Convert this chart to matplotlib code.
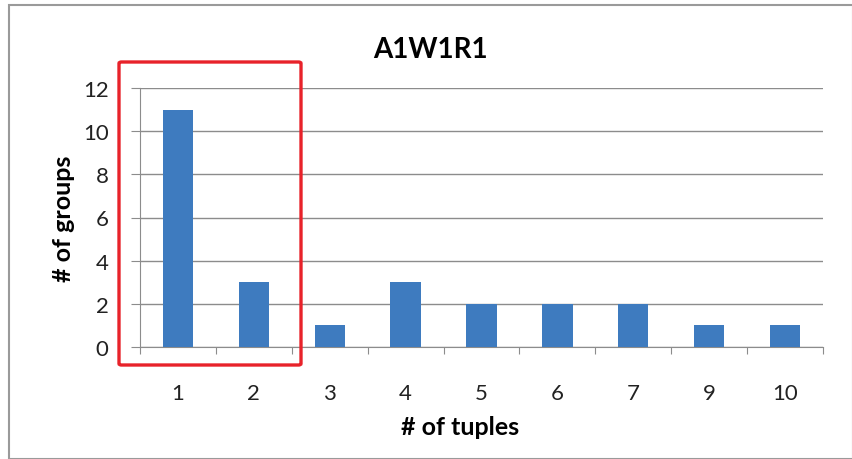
import matplotlib.pyplot as plt
import numpy as np
from matplotlib.patches import FancyBboxPatch, Rectangle

TITLE = "A1W1R1"
CATEGORIES = ["1", "2", "3", "4", "5", "6", "7", "9", "10"]
GROUPS = [11, 3, 1, 3, 2, 2, 2, 1, 1]

BAR_COLOR = "#3E7BBF"
GRID_COLOR = "#8C8C8C"
plt.rcParams["font.family"] = ["Lato", "DejaVu Sans"]

fig = plt.figure(figsize=(8.53, 4.60), dpi=100)
ax = fig.add_axes([140 / 853, 112 / 460, 683 / 853, 259 / 460])

x = np.arange(len(CATEGORIES))
ax.bar(x, GROUPS, width=0.4, color=BAR_COLOR, zorder=3)

ax.set_xlim(-0.5, len(CATEGORIES) - 0.5)
ax.set_ylim(0, 12)
ax.set_yticks(range(0, 13, 2))
ax.grid(axis="y", color=GRID_COLOR, linewidth=1, zorder=0)

# category labels centred, tick marks between categories
ax.set_xticks(np.arange(-0.5, len(CATEGORIES)), labels=[])
ax.set_xticks(x, labels=CATEGORIES, minor=True)
ax.tick_params(axis="x", which="major", length=5, color=GRID_COLOR, direction="out")
ax.tick_params(axis="x", which="minor", length=0, pad=26, labelsize=16,
               labelcolor="#222222")
ax.tick_params(axis="y", length=6.5, color=GRID_COLOR, labelsize=16, pad=16,
               labelcolor="#222222")

for side in ("top", "right"):
    ax.spines[side].set_visible(False)
for side in ("left", "bottom"):
    ax.spines[side].set_color(GRID_COLOR)

ax.set_ylabel("# of groups", fontsize=18, fontweight="bold", labelpad=6)
fig.text(460 / 853, 1 - 428 / 460, "# of tuples", fontsize=18, fontweight="bold",
         ha="center", va="center")
fig.text(430 / 853, 1 - 50 / 460, TITLE, fontsize=20, fontweight="bold",
         ha="center", va="center")

# highlight box around the first two categories
fig.patches.append(FancyBboxPatch((119 / 853, 94 / 460), 182 / 853, 303 / 460,
                                  boxstyle="round,pad=0,rounding_size=0.003",
                                  transform=fig.transFigure, fill=False,
                                  edgecolor="#E8222A", linewidth=2.4, zorder=10))
# outer chart border
fig.patches.append(Rectangle((9 / 853, 0), 1 - 9 / 853, 1 - 6 / 460,
                             transform=fig.transFigure, fill=False,
                             edgecolor="#9A9A9A", linewidth=1.5))

fig.savefig("out.png", dpi=100)
